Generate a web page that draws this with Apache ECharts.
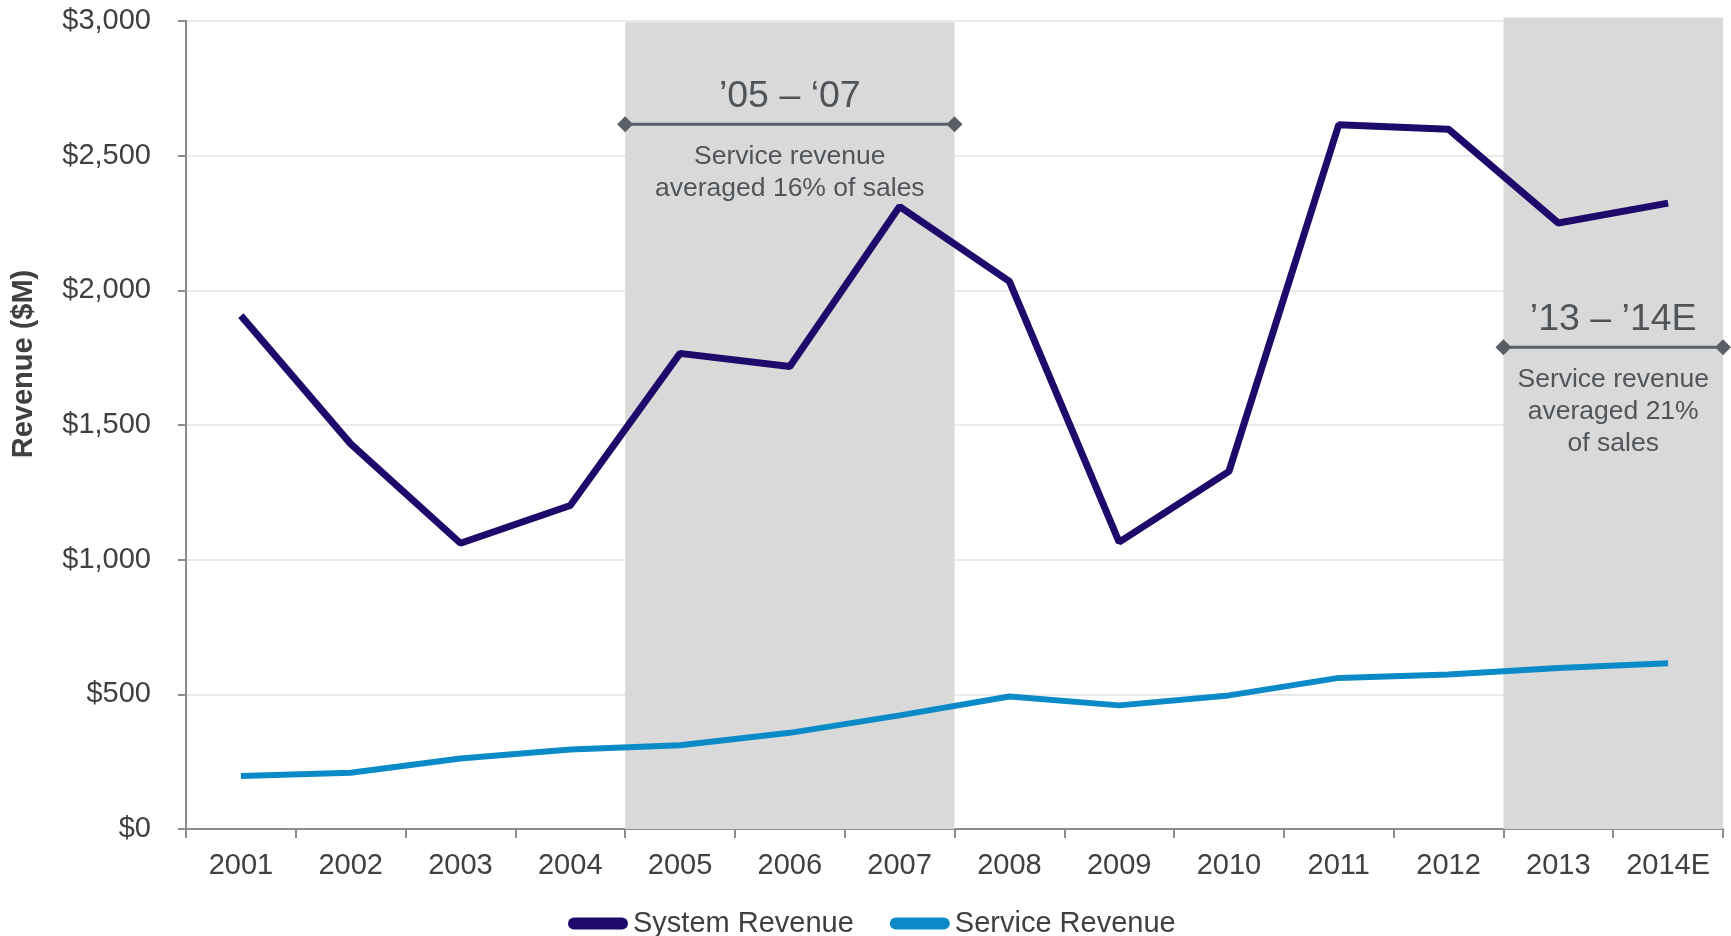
<!DOCTYPE html>
<html><head><meta charset="utf-8">
<script src="https://cdn.jsdelivr.net/npm/echarts@6/dist/echarts.min.js"></script>
<style>html,body{margin:0;padding:0;background:#fff}#c{width:1731px;height:936px}</style>
</head><body><div id="c"></div>
<script>
const categories = ['2001','2002','2003','2004','2005','2006','2007','2008','2009','2010','2011','2012','2013','2014E'];
const systemRevenue = [1906, 1430, 1061, 1201, 1766, 1717, 2311, 2033, 1065, 1328, 2615, 2598, 2250, 2324];
const serviceRevenue = [197, 209, 262, 295, 311, 357, 422, 492, 459, 496, 561, 574, 598, 615];
const yMin = 0, yMax = 3000, yStep = 500;
const bandFrom = ['2005', '2013'];
const bandTo = ['2007', '2014E'];
const bandTop = [2995, 3013];
const bracketValue = [2617, 1789];
const bandTitles = ['\u201905 \u2013 \u201807', '\u201913 \u2013 \u201914E'];
const bandNotes = ['Service revenue\naveraged 16% of sales', 'Service revenue\naveraged 21%\nof sales'];

const FONT = '"Liberation Sans", Arial, Helvetica, sans-serif';
const chart = echarts.init(document.getElementById('c'), null, {renderer: 'canvas'});

const bandData = bandFrom.map((f, i) => [f, bandTo[i], bandTop[i], bracketValue[i]]);

chart.setOption({
  animation: false,
  grid: {left: 186, right: 8, top: 21, bottom: 107, containLabel: false},
  legend: {
    data: ['System Revenue', 'Service Revenue'],
    left: 563, top: 904,
    itemWidth: 60, itemHeight: 12, itemGap: 36,
    icon: 'path://M6,0 L54,0 A6,6 0 0 1 54,12 L6,12 A6,6 0 0 1 6,0 Z',
    textStyle: {fontFamily: FONT, fontSize: 29, color: '#404040'}
  },
  xAxis: {
    type: 'category', data: categories, boundaryGap: true,
    axisLine: {lineStyle: {color: '#8c8c8c', width: 2}},
    axisTick: {show: true, length: 9, lineStyle: {color: '#8c8c8c', width: 2}},
    axisLabel: {fontFamily: FONT, fontSize: 29, color: '#404040', margin: 22},
    splitLine: {show: false}
  },
  yAxis: {
    type: 'value', min: yMin, max: yMax, interval: yStep,
    axisLine: {show: true, lineStyle: {color: '#8c8c8c', width: 2}},
    axisTick: {show: true, length: 8, lineStyle: {color: '#8c8c8c', width: 2}},
    axisLabel: {fontFamily: FONT, fontSize: 29, color: '#404040', margin: 35,
      formatter: v => '$' + v.toLocaleString('en-US')},
    splitLine: {lineStyle: {color: '#e3e3e3', width: 1.5}}
  },
  graphic: [{
    type: 'text', x: 24, y: 364, rotation: Math.PI / 2,
    style: {text: 'Revenue ($M)', font: 'bold 29px ' + FONT, fill: '#404040', align: 'center', verticalAlign: 'middle'}
  }],
  series: [
    {
      type: 'custom', name: 'bands', z: 1, silent: true, clip: false,
      encode: {x: [0, 1], y: [2, 3]},
      data: bandData,
      renderItem: function (params, api) {
        const i = params.dataIndex;
        const w = api.size([1, 0])[0];
        const pTop = api.coord([api.value(0), api.value(2)]);
        const pBot = api.coord([api.value(1), yMin]);
        const x0 = pTop[0] - w / 2, x1 = pBot[0] + w / 2;
        const yTop = pTop[1], yBot = pBot[1];
        const yb = api.coord([api.value(0), api.value(3)])[1];
        const cx = (x0 + x1) / 2;
        const c = '#595f66';
        const d = 8;
        return {
          type: 'group',
          children: [
            {type: 'rect', shape: {x: x0, y: yTop, width: x1 - x0, height: yBot - yTop}, style: {fill: '#d9d9d9'}},
            {type: 'line', shape: {x1: x0, y1: yb, x2: x1, y2: yb}, style: {stroke: c, lineWidth: 3}},
            {type: 'polygon', shape: {points: [[x0 - d, yb], [x0, yb - d], [x0 + d, yb], [x0, yb + d]]}, style: {fill: c}},
            {type: 'polygon', shape: {points: [[x1 - d, yb], [x1, yb - d], [x1 + d, yb], [x1, yb + d]]}, style: {fill: c}},
            {type: 'text', style: {text: bandTitles[i], x: cx, y: yb - 27.5, align: 'center', verticalAlign: 'middle',
              font: '37.5px ' + FONT, fill: '#50555a'}},
            {type: 'text', style: {text: bandNotes[i], x: cx, y: yb + 17, align: 'center', verticalAlign: 'top',
              fontSize: 26.5, fontFamily: FONT, lineHeight: 32, fill: '#50555a'}}
          ]
        };
      }
    },
    {
      name: 'System Revenue', type: 'line', data: systemRevenue, z: 3,
      symbol: 'none', color: '#1e0a6b',
      lineStyle: {width: 7, color: '#1e0a6b'}
    },
    {
      name: 'Service Revenue', type: 'line', data: serviceRevenue, z: 3,
      symbol: 'none', color: '#0a8bc8',
      lineStyle: {width: 6, color: '#0a8bc8'}
    }
  ]
});
</script>
</body></html>
